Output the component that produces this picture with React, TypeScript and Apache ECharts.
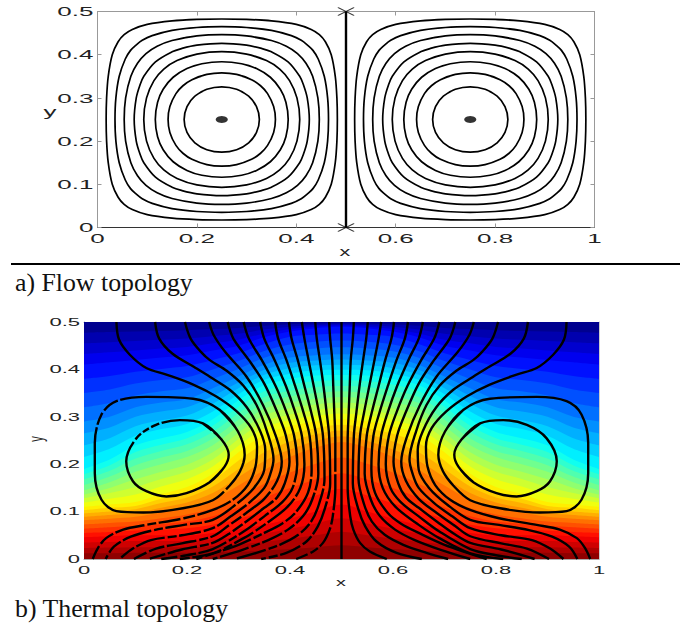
import React, { useEffect, useRef } from "react";
import * as echarts from "echarts";

const X_TICKS = [0, 0.2, 0.4, 0.6, 0.8, 1];
const Y_TICKS = [0, 0.1, 0.2, 0.3, 0.4, 0.5];
const X_LABELS = ["0", "0.2", "0.4", "0.6", "0.8", "1"];
const Y_LABELS = ["0", "0.1", "0.2", "0.3", "0.4", "0.5"];
const CAPTION_A = "a) Flow topology";
const CAPTION_B = "b) Thermal topology";

// Flow topology: one octant of each closed streamline, as offsets from the cell centre
const FLOW_RINGS: number[][][] = [
  [[0, 0.2326], [0.05, 0.2317], [0.1, 0.2284], [0.15, 0.2203], [0.18, 0.2085], [0.1964, 0.1964]],
  [[0, 0.2148], [0.05, 0.213], [0.1, 0.2063], [0.14, 0.1941], [0.16, 0.1835], [0.1724, 0.1724]],
  [[0, 0.1963], [0.05, 0.1934], [0.1, 0.1829], [0.13, 0.1695], [0.1524, 0.1524]],
  [[0, 0.1762], [0.05, 0.172], [0.08, 0.1645], [0.1, 0.1568], [0.1334, 0.1334]],
  [[0, 0.1569], [0.05, 0.1513], [0.09, 0.1364], [0.1166, 0.1166]],
  [[0, 0.1337], [0.04, 0.1291], [0.07, 0.1179], [0.0978, 0.0978]],
  [[0, 0.108], [0.03, 0.1044], [0.06, 0.0922], [0.0781, 0.0781]],
  [[0, 0.0757], [0.03, 0.0699], [0.0541, 0.0541]],
];
const FLOW_CENTRES = [[0.25, 0.25], [0.75, 0.25]];
const SEPARATRIX = [[0.5, 0], [0.5, 0.5]];
const SEPARATRIX_ENDS = [[0.5, 0], [0.5, 0.5]];

// Thermal topology: isolines of the left half (the right half is its mirror image)
const THERMAL_LOOPS: number[][][] = [
  [[0.281, 0.22], [0.267, 0.252], [0.231, 0.286], [0.186, 0.293], [0.14, 0.283], [0.102, 0.255], [0.082, 0.206], [0.095, 0.164], [0.121, 0.143], [0.16, 0.132], [0.199, 0.139], [0.244, 0.162], [0.273, 0.195], [0.281, 0.22]],
  [[0.312, 0.22], [0.299, 0.269], [0.263, 0.315], [0.212, 0.338], [0.121, 0.342], [0.063, 0.333], [0.034, 0.305], [0.021, 0.245], [0.021, 0.181], [0.034, 0.125], [0.063, 0.101], [0.115, 0.098], [0.192, 0.107], [0.25, 0.124], [0.283, 0.155], [0.303, 0.185], [0.312, 0.22]],
];
const THERMAL_LINES: number[][][] = [
  [[0.063, 0.5], [0.068, 0.463], [0.089, 0.431], [0.121, 0.403], [0.16, 0.389], [0.212, 0.368], [0.257, 0.343], [0.296, 0.312], [0.325, 0.276], [0.336, 0.238], [0.333, 0.195], [0.318, 0.156], [0.289, 0.125], [0.249, 0.103], [0.194, 0.086], [0.121, 0.072], [0.076, 0.062], [0.043, 0.044], [0.027, 0.023], [0.017, 0]],
  [[0.138, 0.5], [0.146, 0.465], [0.172, 0.433], [0.214, 0.405], [0.245, 0.384], [0.283, 0.357], [0.316, 0.32], [0.342, 0.27], [0.352, 0.23], [0.35, 0.188], [0.33, 0.15], [0.295, 0.115], [0.25, 0.0825], [0.194, 0.072], [0.136, 0.061], [0.091, 0.047], [0.058, 0.026], [0.042, 0]],
  [[0.196, 0.5], [0.207, 0.465], [0.227, 0.437], [0.245, 0.419], [0.277, 0.397], [0.31, 0.365], [0.335, 0.325], [0.355, 0.27], [0.368, 0.21], [0.362, 0.18], [0.35, 0.15], [0.32, 0.118], [0.285, 0.09], [0.25, 0.065], [0.19, 0.05], [0.13, 0.04], [0.095, 0.022], [0.069, 0]],
  [[0.243, 0.5], [0.252, 0.472], [0.274, 0.437], [0.316, 0.384], [0.348, 0.324], [0.372, 0.261], [0.384, 0.205], [0.375, 0.165], [0.35, 0.127], [0.315, 0.097], [0.28, 0.07], [0.25, 0.048], [0.19, 0.033], [0.14, 0.022], [0.097, 0]],
  [[0.279, 0.5], [0.29, 0.465], [0.32, 0.42], [0.35, 0.37], [0.375, 0.31], [0.392, 0.26], [0.399, 0.205], [0.39, 0.16], [0.375, 0.13], [0.35, 0.108], [0.31, 0.075], [0.28, 0.052], [0.25, 0.034], [0.19, 0.02], [0.125, 0]],
  [[0.31, 0.5], [0.32, 0.465], [0.345, 0.42], [0.372, 0.365], [0.393, 0.31], [0.408, 0.26], [0.414, 0.2], [0.405, 0.15], [0.385, 0.12], [0.35, 0.09], [0.31, 0.058], [0.25, 0.021], [0.2, 0.008], [0.15, 0]],
  [[0.342, 0.5], [0.35, 0.465], [0.37, 0.42], [0.392, 0.365], [0.41, 0.31], [0.423, 0.26], [0.428, 0.2], [0.42, 0.15], [0.395, 0.11], [0.35, 0.072], [0.31, 0.044], [0.25, 0.012], [0.186, 0]],
  [[0.371, 0.5], [0.377, 0.465], [0.393, 0.42], [0.41, 0.365], [0.426, 0.31], [0.438, 0.26], [0.442, 0.19], [0.435, 0.14], [0.41, 0.097], [0.385, 0.075], [0.35, 0.055], [0.3, 0.03], [0.218, 0]],
  [[0.398, 0.5], [0.403, 0.465], [0.415, 0.42], [0.428, 0.365], [0.441, 0.31], [0.451, 0.26], [0.455, 0.18], [0.443, 0.125], [0.425, 0.09], [0.396, 0.062], [0.36, 0.041], [0.309, 0.02], [0.25, 0]],
  [[0.423, 0.5], [0.428, 0.465], [0.436, 0.42], [0.446, 0.365], [0.456, 0.31], [0.464, 0.26], [0.467, 0.17], [0.456, 0.115], [0.441, 0.079], [0.416, 0.051], [0.38, 0.03], [0.335, 0.013], [0.293, 0]],
  [[0.449, 0.5], [0.452, 0.465], [0.458, 0.42], [0.465, 0.365], [0.471, 0.31], [0.476, 0.26], [0.478, 0.16], [0.467, 0.104], [0.454, 0.069], [0.432, 0.037], [0.393, 0.013], [0.344, 0]],
  [[0.476, 0.5], [0.478, 0.465], [0.482, 0.42], [0.484, 0.365], [0.486, 0.31], [0.488, 0.25], [0.488, 0.15], [0.483, 0.09], [0.477, 0.062], [0.464, 0.034], [0.445, 0.016], [0.412, 0]],
];
const THERMAL_AXIS = [[0.5, 0], [0.5, 0.5]];

// Temperature field: height of each colour level, read at these x positions of the left half
const FIELD_X = [0, 0.05, 0.1, 0.15, 0.2, 0.25, 0.3, 0.35, 0.4, 0.45, 0.5];
const FIELD_LEVELS: number[][] = [
  [0.5, 0.5, 0.5, 0.5, 0.5, 0.5, 0.5, 0.5, 0.5, 0.5, 0.5],
  [0.4775, 0.479, 0.48, 0.481, 0.4825, 0.485, 0.4875, 0.492, 0.495, 0.497, 0.4975],
  [0.455, 0.4575, 0.46, 0.4625, 0.465, 0.47, 0.475, 0.484, 0.49, 0.4935, 0.495],
  [0.4325, 0.436, 0.44, 0.444, 0.4475, 0.455, 0.4625, 0.476, 0.485, 0.49, 0.4925],
  [0.41, 0.415, 0.42, 0.425, 0.43, 0.44, 0.45, 0.468, 0.48, 0.487, 0.49],
  [0.38, 0.386, 0.395, 0.401, 0.407, 0.42, 0.434, 0.4535, 0.469, 0.473, 0.4755],
  [0.35, 0.3575, 0.37, 0.3775, 0.3835, 0.4, 0.4175, 0.439, 0.4525, 0.4585, 0.461],
  [0.32, 0.329, 0.345, 0.354, 0.36, 0.38, 0.401, 0.4245, 0.4385, 0.444, 0.4465],
  [0.29, 0.3, 0.32, 0.33, 0.337, 0.36, 0.385, 0.41, 0.425, 0.43, 0.432],
  [0.265, 0.2775, 0.3, 0.311, 0.32, 0.344, 0.3725, 0.399, 0.414, 0.419, 0.421],
  [0.24, 0.255, 0.28, 0.2925, 0.3025, 0.3275, 0.36, 0.3885, 0.4025, 0.4085, 0.41],
  [0.215, 0.2325, 0.26, 0.274, 0.285, 0.311, 0.3475, 0.378, 0.391, 0.398, 0.399],
  [0.19, 0.21, 0.24, 0.255, 0.268, 0.295, 0.335, 0.367, 0.38, 0.387, 0.388],
  [0.179, 0.198, 0.226, 0.241, 0.255, 0.281, 0.321, 0.354, 0.368, 0.375, 0.377],
  [0.168, 0.186, 0.212, 0.228, 0.242, 0.268, 0.308, 0.342, 0.355, 0.363, 0.365],
  [0.156, 0.174, 0.198, 0.214, 0.228, 0.254, 0.294, 0.329, 0.343, 0.35, 0.354],
  [0.145, 0.162, 0.184, 0.2, 0.215, 0.24, 0.28, 0.317, 0.33, 0.338, 0.342],
  [0.136, 0.15, 0.168, 0.184, 0.199, 0.225, 0.266, 0.303, 0.318, 0.326, 0.33],
  [0.128, 0.139, 0.152, 0.169, 0.184, 0.21, 0.253, 0.29, 0.305, 0.314, 0.319],
  [0.119, 0.127, 0.136, 0.153, 0.168, 0.195, 0.239, 0.276, 0.293, 0.302, 0.307],
  [0.11, 0.115, 0.12, 0.137, 0.152, 0.18, 0.225, 0.262, 0.28, 0.29, 0.295],
  [0.103, 0.108, 0.112, 0.127, 0.141, 0.166, 0.208, 0.244, 0.264, 0.276, 0.283],
  [0.096, 0.1, 0.105, 0.118, 0.13, 0.153, 0.19, 0.225, 0.248, 0.263, 0.271],
  [0.089, 0.093, 0.097, 0.108, 0.119, 0.139, 0.173, 0.207, 0.231, 0.249, 0.259],
  [0.082, 0.085, 0.089, 0.098, 0.108, 0.125, 0.155, 0.188, 0.215, 0.235, 0.247],
  [0.073, 0.076, 0.079, 0.086, 0.094, 0.1075, 0.132, 0.159, 0.1825, 0.201, 0.214],
  [0.064, 0.067, 0.07, 0.074, 0.079, 0.09, 0.1085, 0.13, 0.15, 0.1675, 0.181],
  [0.055, 0.057, 0.06, 0.062, 0.065, 0.0725, 0.085, 0.101, 0.1175, 0.134, 0.148],
  [0.046, 0.048, 0.05, 0.05, 0.05, 0.055, 0.062, 0.072, 0.085, 0.1, 0.115],
  [0.035, 0.036, 0.038, 0.038, 0.038, 0.041, 0.0465, 0.054, 0.064, 0.075, 0.086],
  [0.023, 0.024, 0.025, 0.025, 0.025, 0.0275, 0.031, 0.036, 0.0425, 0.05, 0.0575],
  [0.012, 0.012, 0.013, 0.013, 0.013, 0.014, 0.0155, 0.018, 0.021, 0.025, 0.029],
];

// Broken strokes of the left half: solid length before the first break, then the common break pattern
const LINE_SOLID = [262, 240, 222, 190, 196, 172, 184, 160, 172, 166, 178, 150];
const BREAKS = [2.5, 36, 2.5, 12, 3, 22, 2.5, 9, 3, 30, 2.5, 16, 3, 42, 2.5, 11, 3, 26, 2.5, 900];
const LOOP_DASHES = [
  [118, 2.5, 9, 2.5, 7, 2.5, 8, 3, 165, 3, 10, 2.5, 8, 2.5, 900, 0],
  [190, 2.5, 17, 3, 13, 2.5, 205, 3, 15, 3, 12, 2.5, 20, 3, 900, 0],
];

const JET: number[][] = [
  [0, 0, 0.5], [0, 0, 1], [0, 0.5, 1], [0, 1, 1], [0.5, 1, 0.5], [1, 1, 0], [1, 0.5, 0], [1, 0, 0], [0.5, 0, 0],
];
function jet(t: number): string {
  const p = Math.min(t, 0.9999) * (JET.length - 1);
  const i = Math.floor(p);
  const f = p - i;
  const c = JET[i].map((v, k) => Math.round(255 * (v + (JET[i + 1][k] - v) * f)));
  return `rgb(${c[0]},${c[1]},${c[2]})`;
}

function ringPoints(octant: number[][], cx: number, cy: number): number[][] {
  const quarter = [...octant, ...octant.slice(0, -1).reverse().map(([a, b]) => [b, a])];
  const pts: number[][] = [];
  [[1, 1], [1, -1], [-1, -1], [-1, 1]].forEach(([sx, sy], q) => {
    const list = q % 2 === 0 ? quarter : [...quarter].reverse();
    list.slice(q === 0 ? 0 : 1).forEach(([a, b]) => pts.push([cx + sx * a, cy + sy * b]));
  });
  return pts;
}

const mirror = (pts: number[][]) => pts.map(([x, y]) => [1 - x, y]);
// run past the join of a closed curve so that it has no corner there
const wrap = (c: number[][]) => [c[c.length - 3], c[c.length - 2], ...c, c[1], c[2]];

function App() {
  const ref = useRef<HTMLDivElement>(null);
  useEffect(() => {
    if (!ref.current) return;
    const chart = echarts.init(ref.current, undefined, { renderer: "svg" });
    const base = { type: "value", min: 0, animation: false, splitLine: { show: false }, axisLabel: { show: false } };
    const xAxis = (grid: number, pos: string, color: string, ticks: boolean) => ({
      ...base, gridIndex: grid, position: pos, max: 1, interval: 0.2,
      axisLine: { show: true, onZero: false, lineStyle: { color, width: 1 } },
      axisTick: { show: ticks, inside: true, length: 4, lineStyle: { color: "#999" } },
    });
    const yAxis = (grid: number, pos: string, color: string, ticks: boolean) => ({
      ...base, gridIndex: grid, position: pos, max: 0.5, interval: 0.1,
      axisLine: { show: true, onZero: false, lineStyle: { color, width: 1 } },
      axisTick: { show: ticks, inside: true, length: 4, lineStyle: { color: "#999" } },
    });
    const line = (data: number[][], axis: number, width: number, dash?: number[]) => ({
      type: "line", data, xAxisIndex: axis, yAxisIndex: axis, smooth: 0.33, showSymbol: false, symbol: "none",
      lineStyle: { color: "#000", width, type: dash ?? "solid" }, z: 5, silent: true, animation: false,
    });

    const series: any[] = [];
    FLOW_CENTRES.forEach(([cx, cy]) => FLOW_RINGS.forEach((o) => series.push(line(wrap(ringPoints(o, cx, cy)), 0, 1.7))));
    series.push({ ...line(SEPARATRIX, 0, 2.4), smooth: false });
    series.push({ type: "scatter", data: FLOW_CENTRES, xAxisIndex: 0, yAxisIndex: 0, symbol: "circle", symbolSize: [12, 7], itemStyle: { color: "#000" }, z: 6, silent: true });
    series.push({
      type: "scatter", data: SEPARATRIX_ENDS, xAxisIndex: 0, yAxisIndex: 0, clip: false, symbol: "path://M0 0L10 10M0 10L10 0",
      symbolKeepAspect: false, symbolSize: [16, 8], itemStyle: { color: "none", borderColor: "#000", borderWidth: 1.3 }, z: 6, silent: true,
    });

    const fullX = [...FIELD_X, ...FIELD_X.slice(0, -1).reverse().map((x) => 1 - x)];
    FIELD_LEVELS.forEach((row, k) => {
      const full = [...row, ...row.slice(0, -1).reverse()];
      series.push({
        type: "line", data: fullX.map((x, i) => [x, full[i]]), xAxisIndex: 2, yAxisIndex: 2, smooth: 0.33, showSymbol: false, symbol: "none",
        lineStyle: { width: 0 }, areaStyle: { color: jet((k + 0.5) / FIELD_LEVELS.length), opacity: 1 }, z: 3, silent: true,
      });
    });
    THERMAL_LOOPS.forEach((pts, i) => {
      series.push(line(wrap(pts), 2, 2.4, LOOP_DASHES[i]));
      series.push(line(wrap(mirror(pts)), 2, 2.4));
    });
    THERMAL_LINES.forEach((pts, i) => {
      series.push(line(pts, 2, 2.4, [LINE_SOLID[i], ...BREAKS, 0]));
      series.push(line(mirror(pts), 2, 2.4));
    });
    series.push({ ...line(THERMAL_AXIS, 2, 2.4), smooth: false });

    chart.setOption({
      animation: false,
      grid: [
        { left: 97.5, top: 11.5, width: 497, height: 216 },
        { left: 84, top: 322, width: 515, height: 237 },
      ],
      xAxis: [xAxis(0, "bottom", "#333", true), xAxis(0, "top", "#999", true), xAxis(1, "bottom", "#aaa", false), xAxis(1, "top", "#aac", false)],
      yAxis: [yAxis(0, "left", "#999", true), yAxis(0, "right", "#999", true), yAxis(1, "left", "#aaa", false), yAxis(1, "right", "#ccc", false)],
      series,
    });

    const tickText = (text: string, x: number, y: number, size: number, align: string) => ({
      type: "text", x, y, scaleX: 2, z: 20, silent: true,
      style: { text, fontSize: size, fontFamily: "Liberation Sans", fill: "#222", align, verticalAlign: "middle" },
    });
    const graphics: any[] = [];
    [0, 2].forEach((axis, g) => {
      const size = g === 0 ? 13 : 11;
      const xGap = 11;
      const yGap = 4;
      X_TICKS.forEach((v, i) => {
        const [px, py] = chart.convertToPixel({ xAxisIndex: axis, yAxisIndex: axis }, [v, 0]);
        graphics.push(tickText(X_LABELS[i], px, py + xGap, size, "center"));
      });
      Y_TICKS.forEach((v, i) => {
        const [px, py] = chart.convertToPixel({ xAxisIndex: axis, yAxisIndex: axis }, [0, v]);
        graphics.push(tickText(Y_LABELS[i], px - yGap, py, size, "right"));
      });
    });
    const AXIS_TEXT = { fontFamily: "Liberation Sans", fill: "#222", align: "center", verticalAlign: "middle" };
    graphics.push({ type: "text", x: 345, y: 252, scaleX: 1.8, style: { ...AXIS_TEXT, text: "x", fontSize: 12 } });
    graphics.push({ type: "text", x: 50, y: 111, scaleX: 2, style: { ...AXIS_TEXT, text: "y", fontSize: 13 } });
    graphics.push({ type: "text", x: 341, y: 582, scaleX: 1.8, style: { ...AXIS_TEXT, text: "x", fontSize: 11 } });
    graphics.push({ type: "text", x: 36, y: 439, rotation: Math.PI / 2, scaleY: 1.9, style: { ...AXIS_TEXT, text: "y", fontSize: 11 } });
    graphics.push({ type: "line", shape: { x1: 11, y1: 264, x2: 680, y2: 264 }, style: { stroke: "#000", lineWidth: 2 } });
    const CAP = { fontFamily: "Liberation Serif", fontSize: 25.8, fill: "#111", align: "left", verticalAlign: "middle" };
    graphics.push({ type: "text", x: 15, y: 282, style: { ...CAP, text: CAPTION_A } });
    graphics.push({ type: "text", x: 15, y: 608, style: { ...CAP, text: CAPTION_B } });
    chart.setOption({ graphic: graphics });

    return () => chart.dispose();
  }, []);
  return <div ref={ref} style={{ position: "absolute", left: 0, top: 0, width: 685, height: 625 }} />;
}

export default App;
